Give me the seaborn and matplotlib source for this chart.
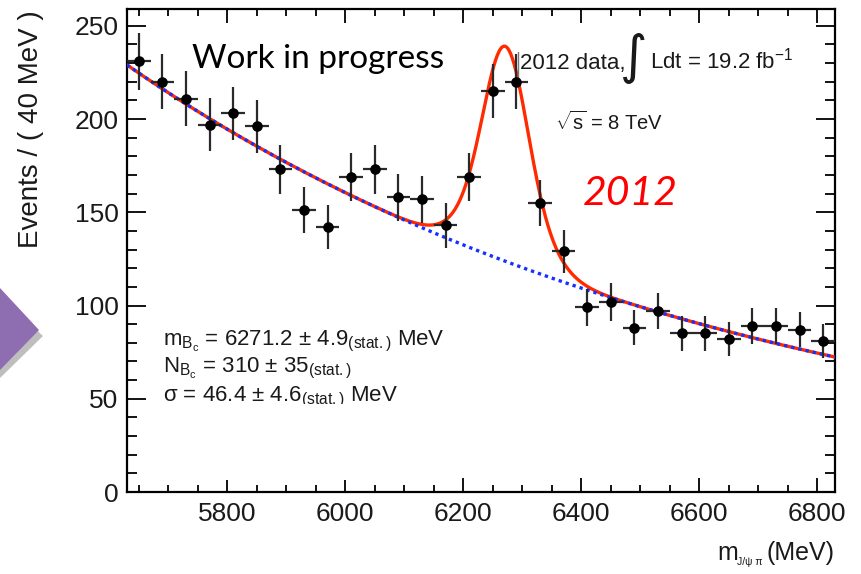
import numpy as np
import pandas as pd
import seaborn as sns
import matplotlib
matplotlib.use("Agg")
import matplotlib.pyplot as plt
from matplotlib.patches import Polygon, Rectangle
from matplotlib.lines import Line2D
from matplotlib.ticker import MultipleLocator

# J/psi pi invariant mass spectrum, 40 MeV bins
mass_centers = [5650, 5690, 5730, 5770, 5810, 5850, 5890, 5930, 5970, 6010,
                6050, 6090, 6130, 6170, 6210, 6250, 6290, 6330, 6370, 6410,
                6450, 6490, 6530, 6570, 6610, 6650, 6690, 6730, 6770, 6810]
event_counts = [231, 220, 211, 197, 203, 196, 173, 151, 142, 169,
                173, 158, 157, 143, 169, 215, 220, 155, 129, 99,
                102, 88, 97, 85, 85, 82, 89, 89, 87, 81]
bin_width = 40

# fit result: signal peak + exponential background
peak_mass = 6271.2
peak_sigma = 46.4
peak_yield = 310
core_sigma = 35.0
bkg_norm = 229.0
bkg_slope = -0.00096
mass_range = (5630, 6830)

x_ticks = [5800, 6000, 6200, 6400, 6600, 6800]
y_ticks = [0, 50, 100, 150, 200, 250]

W, H = 862, 574


def fpos(x, y):
    """pixel position (origin top-left) -> figure fraction"""
    return x / W, 1 - y / H


sns.set_theme(style="ticks")
plt.rcParams["font.family"] = ["Liberation Sans", "DejaVu Sans"]
plt.rcParams["mathtext.fontset"] = "custom"
plt.rcParams["mathtext.rm"] = "Liberation Sans"
plt.rcParams["mathtext.it"] = "Liberation Sans:italic"
plt.rcParams["mathtext.bf"] = "Liberation Sans:bold"

fig = plt.figure(figsize=(W / 100, H / 100), dpi=100)
fig.patch.set_facecolor("white")
l, b = fpos(127, 492)
r, t = fpos(835, 9)
ax = fig.add_axes([l, b, r - l, t - b])
ax.set_facecolor("white")

# fit curves
m = np.linspace(mass_range[0], mass_range[1], 800)
background = bkg_norm * np.exp(bkg_slope * (m - mass_range[0]))
tail_sigma = np.sqrt(2 * peak_sigma ** 2 - core_sigma ** 2)


def gauss(x, mu, s):
    return np.exp(-0.5 * ((x - mu) / s) ** 2) / (np.sqrt(2 * np.pi) * s)


signal = peak_yield * bin_width * (0.5 * gauss(m, peak_mass, core_sigma)
                                   + 0.5 * gauss(m, peak_mass, tail_sigma))
fit = pd.DataFrame({"mass": m, "total": background + signal, "bkg": background})

sns.lineplot(data=fit, x="mass", y="total", color="#FF2A00", linewidth=2.4,
             ax=ax, zorder=3)
sns.lineplot(data=fit, x="mass", y="bkg", color="#1530FF", linewidth=2.4,
             linestyle=(0, (1.0, 1.2)), ax=ax, zorder=4)

# data points with statistical errors
pts = pd.DataFrame({"mass": mass_centers, "events": event_counts})
ax.errorbar(pts["mass"], pts["events"], yerr=np.sqrt(pts["events"]),
            xerr=bin_width / 2, fmt="none", ecolor="#2a2a2a", elinewidth=1.6,
            capsize=0, zorder=5)
sns.scatterplot(data=pts, x="mass", y="events", color="black", s=58,
                edgecolor="black", linewidth=0, ax=ax, zorder=6)

ax.set_xlim(*mass_range)
ax.set_ylim(0, 259)
ax.set_xticks(x_ticks)
ax.set_yticks(y_ticks)
ax.xaxis.set_minor_locator(MultipleLocator(50))
ax.yaxis.set_minor_locator(MultipleLocator(10))
ax.tick_params(which="both", direction="in", top=True, right=True,
               color="black", width=1.3, labelsize=19, labelcolor="#1a1a1a")
ax.tick_params(axis="x", which="major", length=10, pad=7)
ax.tick_params(axis="x", which="minor", length=5)
ax.tick_params(axis="y", which="major", length=14, pad=6)
ax.tick_params(axis="y", which="minor", length=7)
for sp in ax.spines.values():
    sp.set_linewidth(1.6)
    sp.set_color("black")
ax.set_xlabel("")
ax.set_ylabel("")

# axis titles
fig.text(*fpos(835, 560), "(MeV)", ha="right", va="baseline", fontsize=18,
         color="#1a1a1a")
fig.text(*fpos(717, 560), "m", ha="left", va="baseline", fontsize=18,
         color="#1a1a1a")
fig.text(*fpos(737, 565), "J/ψ π", ha="left", va="baseline", fontsize=7.5,
         color="#1a1a1a")
fig.text(*fpos(31, 129), "Events / ( 40 MeV )", rotation=90, ha="center",
         va="center", fontsize=20, color="#1a1a1a")

# annotations
fig.text(*fpos(192, 68), "Work in progress", family="Lato", fontsize=24,
         color="black", va="baseline", ha="left")
fig.add_artist(Line2D([518 / W, 518 / W], [1 - 52 / H, 1 - 76 / H],
                      transform=fig.transFigure, color="#777777", lw=1.0))
fig.text(*fpos(520, 69), "2012 data,", fontsize=16, color="#1a1a1a",
         va="baseline", ha="left")
fig.text(*fpos(634, 58), "∫", family="DejaVu Sans", fontsize=38,
         color="#1a1a1a", va="center", ha="center")
fig.text(*fpos(650, 69), r"Ldt = 19.2 fb$^{\mathregular{-1}}$", fontsize=16,
         color="#1a1a1a", va="baseline", ha="left")
fig.text(*fpos(555, 130), r"$\sqrt{\mathregular{s}}$ = 8 TeV", fontsize=14.5,
         color="#1a1a1a", va="baseline", ha="left")
fig.text(*fpos(583, 205), "2012", family="Lato", style="italic", fontsize=29.5,
         color="#FF0000", va="baseline", ha="left")

param_lines = [
    r"m$_{\mathregular{B_c}}$ = 6271.2 ± 4.9$_{\mathregular{(stat.)}}$ MeV",
    r"N$_{\mathregular{B_c}}$ = 310 ± 35$_{\mathregular{(stat.)}}$",
    r"σ = 46.4 ± 4.6$_{\mathregular{(stat.)}}$ MeV",
]
for txt, yb in zip(param_lines, [345, 372, 401]):
    fig.text(*fpos(163, yb), txt, fontsize=16, color="#1a1a1a",
             va="baseline", ha="left", zorder=3)

# blank band over the lower edge of the parameter box
x0, y0 = fpos(150, 480)
x1, y1 = fpos(440, 403.5)
fig.patches.append(Rectangle((x0, y0), x1 - x0, y1 - y0,
                             transform=fig.transFigure, facecolor="white",
                             edgecolor="none", zorder=4))

# purple arrow marker at the left edge
shadow = [fpos(0, 296), fpos(43, 336), fpos(0, 378)]
tri = [fpos(0, 288), fpos(39, 330), fpos(0, 370)]
fig.patches.append(Polygon(shadow, closed=True, transform=fig.transFigure,
                           facecolor="#8a8a8a", edgecolor="none", alpha=0.55,
                           zorder=1))
fig.patches.append(Polygon(tri, closed=True, transform=fig.transFigure,
                           facecolor="#8E6DB0", edgecolor="none", zorder=2))

fig.savefig("out.png", dpi=100, facecolor="white")
